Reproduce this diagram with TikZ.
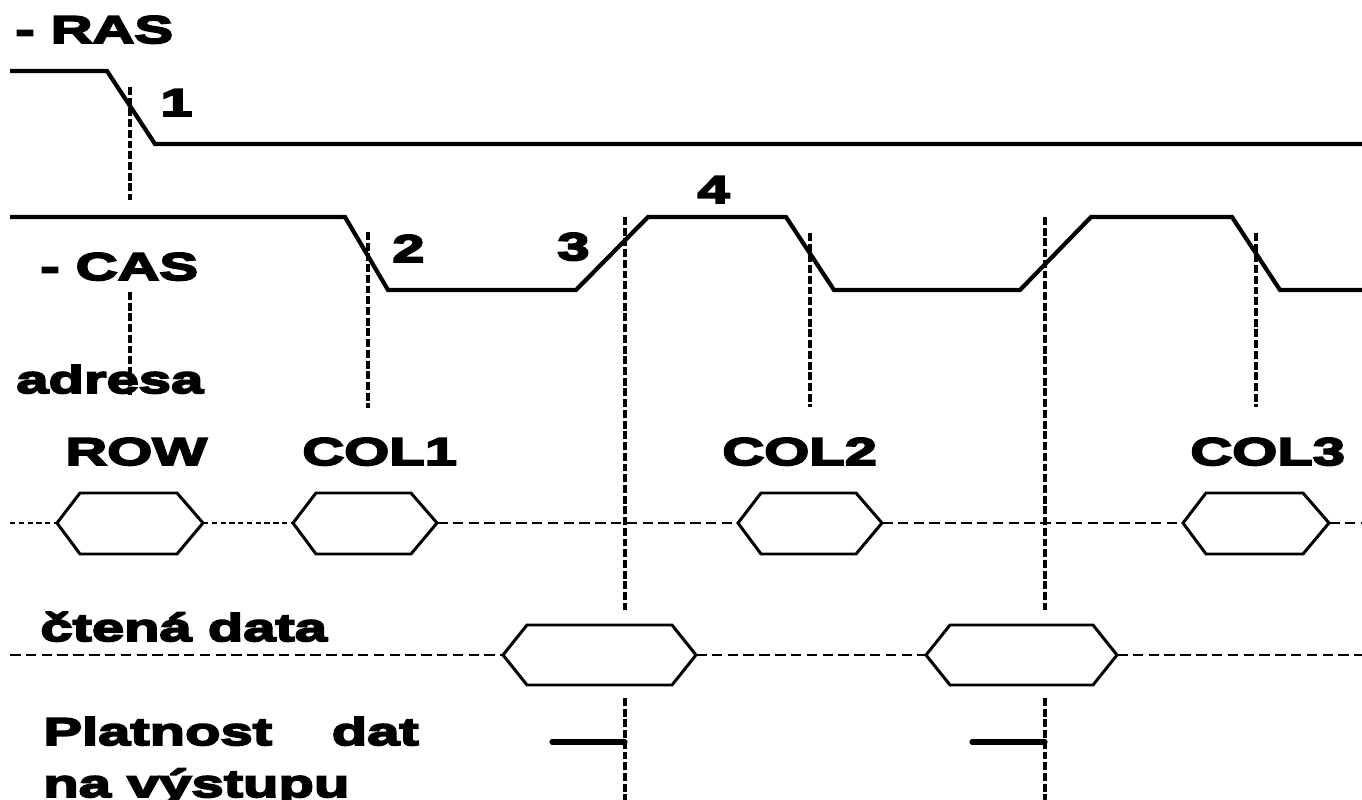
\documentclass[tikz,border=0pt]{standalone}
\usepackage{fontspec}
\newfontfamily\timfont{Liberation Sans Bold}[FakeStretch=1.5,FakeBold=5]
\usepackage{tikz}
\tikzset{
  sig/.style={line width=2.4pt,line join=miter,black},
  guide/.style={line width=2.3pt,dash pattern=on 4.5pt off 1.6pt,black},
  bus/.style={line width=1.6pt,dash pattern=on 6pt off 3pt},
  busf/.style={line width=1.3pt,dash pattern=on 3pt off 2pt},
  hexa/.style={line width=1.7pt,line join=miter,fill=white},
  valid/.style={line width=3pt,line cap=round},
  lbl/.style={font=\timfont\fontsize{22}{26}\selectfont,anchor=base west,inner sep=0pt},
}

\begin{document}
\begin{tikzpicture}[x=0.02cm,y=-0.02cm]
  \useasboundingbox (0,0) rectangle (1362,800);
  \clip (0,0) rectangle (1362,800);
  % signal names and edge numbers
  \node[lbl] (ras) at (15,43) {- RAS};
  \node[lbl] (cas) at (40,280) {- CAS};
  \node[lbl] (e1) at (160,116) {1};
  \node[lbl] (e2) at (392,262) {2};
  \node[lbl] (e3) at (557,260) {3};
  \node[lbl] (e4) at (697,203) {4};
  \node[lbl] (adr) at (16,393) {adresa};
  \node[lbl] (row) at (65,465) {ROW};
  \node[lbl] (col1) at (302,465) {COL1};
  \node[lbl] (col2) at (722,465) {COL2};
  \node[lbl] (col3) at (1190,465) {COL3};
  \node[lbl] (dat) at (40,641) {čtená data};
  \node[lbl] (plat) at (43,745) {Platnost\hspace{34pt}dat};
  \node[lbl] (vyst) at (43,797) {na výstupu};
  % -RAS and -CAS
  \draw[sig] (10,71) -- (107,71) -- (155,144) -- (1362,144);
  \draw[sig] (10,217) -- (345,217) -- (388,290) -- (576,290) -- (648,217) -- (786,217)
    -- (834,290) -- (1020,290) -- (1091,217) -- (1232,217) -- (1280,290) -- (1362,290);
  % guide lines
  \foreach \x/\a/\b in {130/87/200, 130/292/395, 368/232/408, 625/217/610, 625/698/800,
      810/233/407, 1045/217/610, 1045/698/800, 1256/233/407}
    \draw[guide] (\x,\a) -- (\x,\b);
  % address bus
  \draw[busf] (10,523) -- (57,523) (203,523) -- (293,523);
  \draw[bus] (437,523) -- (738,523) (882,523) -- (1183,523) (1329,523) -- (1362,523);
  \foreach \a/\b in {57/203, 293/437, 738/882, 1183/1329}
    \draw[hexa] (\a,523) -- (\a+23,493) -- (\b-26,493) -- (\b,523) -- (\b-26,554) -- (\a+23,554) -- cycle;
  % read data
  \draw[bus] (10,655) -- (503,655) (696,655) -- (926,655) (1117,655) -- (1362,655);
  \foreach \a/\b in {503/696, 926/1117}
    \draw[hexa] (\a,655) -- (\a+24,625) -- (\b-24,625) -- (\b,655) -- (\b-24,685) -- (\a+24,685) -- cycle;
  % data valid
  \draw[valid] (552,742) -- (625,742);
  \draw[valid] (972,742) -- (1045,742);
\end{tikzpicture}
\end{document}
